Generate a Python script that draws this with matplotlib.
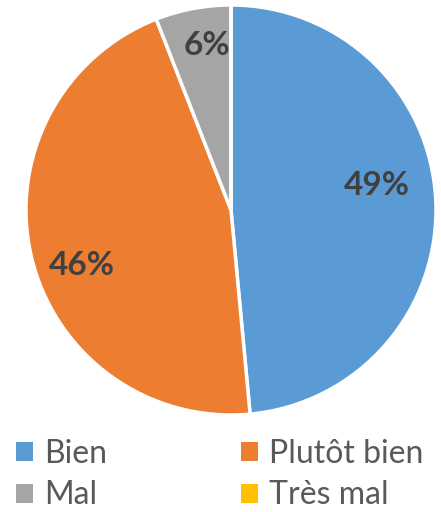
import matplotlib
matplotlib.use("Agg")
import matplotlib.pyplot as plt
from matplotlib.patches import Patch
import numpy as np

categories = ["Bien", "Plutôt bien", "Mal", "Très mal"]
values = [49, 46, 6, 0]
labels = ["49%", "46%", "6%", ""]
colors = ["#5B9BD5", "#ED7D31", "#A5A5A5", "#FFC000"]

plt.rcParams['font.family'] = ['Lato', 'DejaVu Sans']

fig = plt.figure(figsize=(4.41, 5.12), dpi=100)
ax = fig.add_axes([26/441, 1-415/512, 410/441, 410/512])
wedges, _ = ax.pie(values, colors=colors, startangle=90, counterclock=False,
                   wedgeprops=dict(edgecolor="white", linewidth=2.5), radius=1.0)
ax.set_xlim(-1, 1); ax.set_ylim(-1, 1)
ax.set_aspect('equal')
ax.axis('off')

total = sum(values)
start = 90.0
dists = [0.72, 0.775, 0.81, 0.8]
ang_off = [7, 7, -2.4, 0]
for v, lab, d, off in zip(values, labels, dists, ang_off):
    span = v / total * 360
    mid = np.deg2rad(start - span / 2 + off)
    start -= span
    if lab:
        ax.text(d*np.cos(mid), d*np.sin(mid), lab, ha='center', va='center',
                fontsize=24, fontweight='bold', color='#404040')

order = [0, 2, 1, 3]
handles = [Patch(facecolor=colors[i], edgecolor='none') for i in order]
fig.legend(handles, [categories[i] for i in order], ncol=2, loc='upper left',
           bbox_to_anchor=(16/441, 1-439/512), frameon=False, fontsize=23,
           handlelength=0.53, handleheight=0.53, handletextpad=0.35,
           columnspacing=4.2, labelspacing=0.36, labelcolor='#595959',
           borderaxespad=0, borderpad=0)

fig.savefig("out.png", dpi=100)
